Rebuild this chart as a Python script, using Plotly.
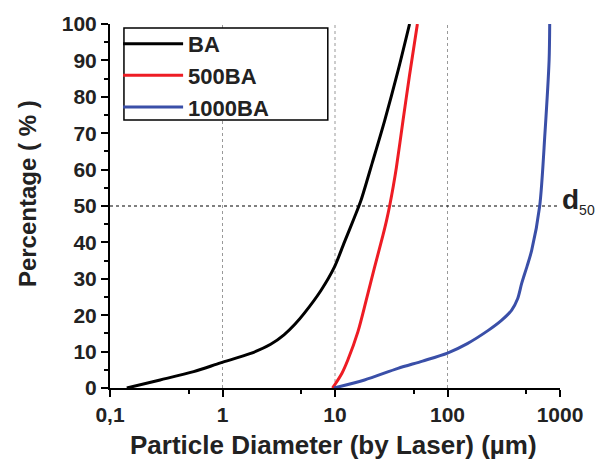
import plotly.graph_objects as go

# Particle size distributions (cumulative %)
BA_x = [0.141, 0.279, 0.554, 0.96, 1.78, 2.68, 3.52, 4.4, 5.32, 7.5, 9.87, 12.1, 14.9, 17.0, 21.5, 27.6, 36.3, 46.0]
BA_y = [0, 2.2, 4.5, 6.9, 9.5, 12.0, 14.6, 17.5, 20.5, 26.8, 33.2, 40.0, 46.9, 51.5, 62.0, 73.4, 87.1, 100]

B500_x = [9.5, 9.9, 11.5, 13.0, 16.0, 18.9, 22.4, 26.7, 28.7, 30.8, 33.0, 35.1, 40.2, 46.0, 54.0]
B500_y = [0, 0.8, 4.0, 7.7, 15.5, 24.0, 33.0, 42.0, 46.0, 50.5, 55.5, 60.5, 73.4, 86, 100]

B1000_x = [9.8, 18.3, 36.3, 60, 100, 150, 232, 300, 372, 420, 457, 510, 560, 660, 735, 800, 810]
B1000_y = [0, 2.2, 5.4, 7.4, 9.6, 12.2, 15.9, 18.5, 21.4, 24.5, 28.8, 33.5, 37.8, 50, 70, 90, 100]

X_TICKS = [0.1, 1, 10, 100, 1000]
X_TICKTEXT = ["0,1", "1", "10", "100", "1000"]
X_MINOR = [0.5, 5, 50, 500]
GRID_X = [1, 10, 100]
D50 = 50

FONT = "Liberation Sans, Arial, sans-serif"
TXT = "#222222"

fig = go.Figure()
series = [("BA", BA_x, BA_y, "#000000"),
          ("500BA", B500_x, B500_y, "#ee1c24"),
          ("1000BA", B1000_x, B1000_y, "#3a4fa8")]
for name, xs, ys, c in series:
    fig.add_trace(go.Scatter(x=xs, y=ys, mode="lines", name=name,
                             line=dict(color=c, width=3, shape="spline", smoothing=0.8)))

for gx in GRID_X:
    fig.add_shape(type="line", xref="x", yref="paper", x0=gx, x1=gx, y0=0, y1=1,
                  line=dict(color="#999999", width=1, dash="dot"), layer="below")

fig.add_shape(type="line", xref="paper", yref="y", x0=0, x1=1, y0=D50, y1=D50,
              line=dict(color="#000000", width=1.2, dash="dot"), layer="below")

# legend frame
fig.add_shape(type="rect", xref="paper", yref="paper", x0=0.031, x1=0.484, y0=0.736, y1=0.989,
              line=dict(color="#000000", width=1.5), fillcolor="white", layer="below")

fig.add_annotation(x=1.0, y=D50, xref="paper", yref="y", xanchor="left", yanchor="middle",
                   xshift=0, yshift=5,
                   text="<b>d</b><sub><span style='font-size:14px'>50</span></sub>", showarrow=False,
                   font=dict(family=FONT, size=28, color=TXT))

# axis titles
fig.add_annotation(x=0.496, y=-0.157, xref="paper", yref="paper", xanchor="center", yanchor="middle",
                   text="<b>Particle Diameter (by Laser) (µm)</b>", showarrow=False,
                   font=dict(family=FONT, size=26, color=TXT))
fig.add_annotation(x=-0.182, y=0.533, xref="paper", yref="paper", xanchor="center", yanchor="middle",
                   text="<b>Percentage ( % )</b>", showarrow=False, textangle=-90,
                   font=dict(family=FONT, size=24, color=TXT))

fig.update_layout(
    width=598, height=460,
    margin=dict(l=102, r=46, t=16, b=80),
    paper_bgcolor="white", plot_bgcolor="white",
    font=dict(family=FONT, color=TXT),
    legend=dict(x=0.018, y=1.003, xanchor="left", yanchor="top",
                borderwidth=0, bgcolor="rgba(0,0,0,0)",
                font=dict(family=FONT, size=22, color=TXT, weight="bold"),
                itemwidth=60, tracegroupgap=0),
    xaxis=dict(type="log", range=[-1, 3], tickvals=X_TICKS, ticktext=X_TICKTEXT,
               showgrid=False, zeroline=False, showline=True, linecolor="#000000", linewidth=2,
               ticks="outside", ticklen=7, tickwidth=2, tickcolor="#000000",
               tickfont=dict(family=FONT, size=21, color=TXT, weight="bold"),
               minor=dict(tickvals=X_MINOR, ticks="outside", ticklen=4, tickwidth=1.5, tickcolor="#000000"),
               automargin=False),
    yaxis=dict(range=[0, 100], dtick=10, tick0=0,
               showgrid=False, zeroline=False, showline=True, linecolor="#000000", linewidth=2,
               ticks="outside", ticklen=7, tickwidth=2, tickcolor="#000000",
               tickfont=dict(family=FONT, size=21, color=TXT, weight="bold"),
               minor=dict(dtick=5, ticks="outside", ticklen=4, tickwidth=1.5, tickcolor="#000000"),
               automargin=False),
)

fig.write_html("out.html")
